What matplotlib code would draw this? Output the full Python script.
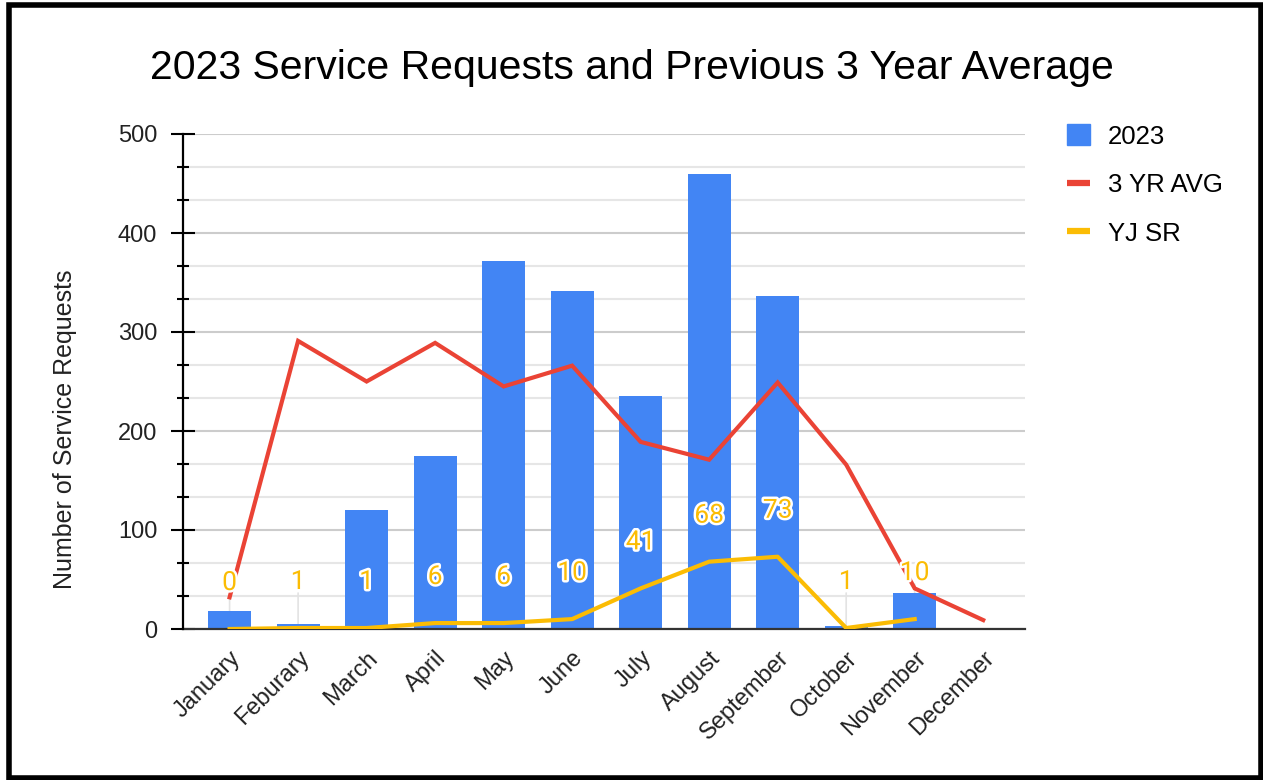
import matplotlib
matplotlib.use("Agg")
import matplotlib.pyplot as plt
import matplotlib.patheffects as pe
from matplotlib.patches import Patch, Rectangle
from matplotlib.lines import Line2D
from matplotlib.ticker import MultipleLocator

plt.rcParams['font.family'] = ['Liberation Sans', 'DejaVu Sans']

# данные
months = ['January', 'Feburary', 'March', 'April', 'May', 'June', 'July',
          'August', 'September', 'October', 'November', 'December']
requests_2023 = [18, 5, 120, 175, 372, 341, 235, 460, 336, 3, 36, 0]
avg_3yr = [32, 291, 250, 289, 245, 266, 189, 171, 249, 166, 41, 9]
yj_sr = [0, 1, 1, 6, 6, 10, 41, 68, 73, 1, 10]  # декабря нет

BLUE = '#4285F4'
RED = '#EA4335'
YELLOW = '#FBBC04'

fig = plt.figure(figsize=(12.63, 7.8), dpi=100)
ax = fig.add_axes([183/1263, 1-629/780, (1025-183)/1263, (629-134)/780])

x = list(range(len(months)))
ax.bar(x, requests_2023, width=0.63, color=BLUE, zorder=2)
ax.plot(x, avg_3yr, color=RED, lw=3, zorder=3, solid_joinstyle='miter')
ax.plot(x[:len(yj_sr)], yj_sr, color=YELLOW, lw=3, zorder=4)

# подписи значений YJ SR
for i, v in enumerate(yj_sr):
    ax.annotate('', xy=(i, v), xytext=(0, 35), textcoords='offset pixels',
                arrowprops=dict(arrowstyle='-', color='#e3e3e3', lw=1.2,
                                shrinkA=0, shrinkB=0), zorder=1)
    ax.annotate(str(v), xy=(i, v), xytext=(0, 46), textcoords='offset pixels',
                ha='center', va='center', color=YELLOW, fontsize=19,
                family=['Roboto', 'DejaVu Sans'], zorder=6,
                path_effects=[pe.withStroke(linewidth=3.5, foreground='white')])

ax.set_xlim(-0.68, 11.61)
ax.set_ylim(0, 500)
ax.yaxis.set_major_locator(MultipleLocator(100))
ax.yaxis.set_minor_locator(MultipleLocator(100/3))
ax.grid(axis='y', which='major', color='#cccccc', lw=1.5, zorder=0)
ax.grid(axis='y', which='minor', color='#e6e6e6', lw=1.5, zorder=0)
ax.set_axisbelow(True)

for s in ['top', 'right']:
    ax.spines[s].set_visible(False)
ax.spines['left'].set_linewidth(1.6)
ax.spines['left'].set_color('black')
ax.spines['bottom'].set_linewidth(1.6)
ax.spines['bottom'].set_color('#333333')
ax.spines['left'].set_zorder(5)

ax.tick_params(axis='y', which='major', direction='inout', length=17, width=1.5,
               labelsize=17, pad=10, labelcolor='#222222')
ax.tick_params(axis='y', which='minor', direction='inout', length=9, width=1.5)
ax.tick_params(axis='x', length=0, pad=13, labelsize=17, labelcolor='#222222')
ax.set_xticks(x)
ax.set_xticklabels(months, rotation=45, ha='right', rotation_mode='anchor')

fig.text(0.5, 1-68/780, '2023 Service Requests and Previous 3 Year Average',
         ha='center', va='center', fontsize=29.5, color='black')
fig.text(65/1263, 1-429/780, 'Number of Service Requests', rotation=90,
         ha='center', va='center', fontsize=18, color='#222222')

handles = [Patch(color=BLUE),
           Line2D([], [], color=RED, lw=4.5, solid_capstyle='butt'),
           Line2D([], [], color=YELLOW, lw=4.5, solid_capstyle='butt')]
fig.legend(handles, ['2023', '3 YR AVG', 'YJ SR'], loc='upper left',
           bbox_to_anchor=(1067/1263, 1-124/780), frameon=False, fontsize=18.5,
           handlelength=0.9, handleheight=0.9, handletextpad=0.7,
           labelspacing=0.945, borderpad=0, borderaxespad=0)

# чёрная рамка вокруг всей картинки
fig.patches.append(Rectangle((9/1263, 2/780), 1252/1263, 773/780, fill=False,
                             edgecolor='black', lw=4, transform=fig.transFigure))

fig.savefig('out.png', dpi=100)
